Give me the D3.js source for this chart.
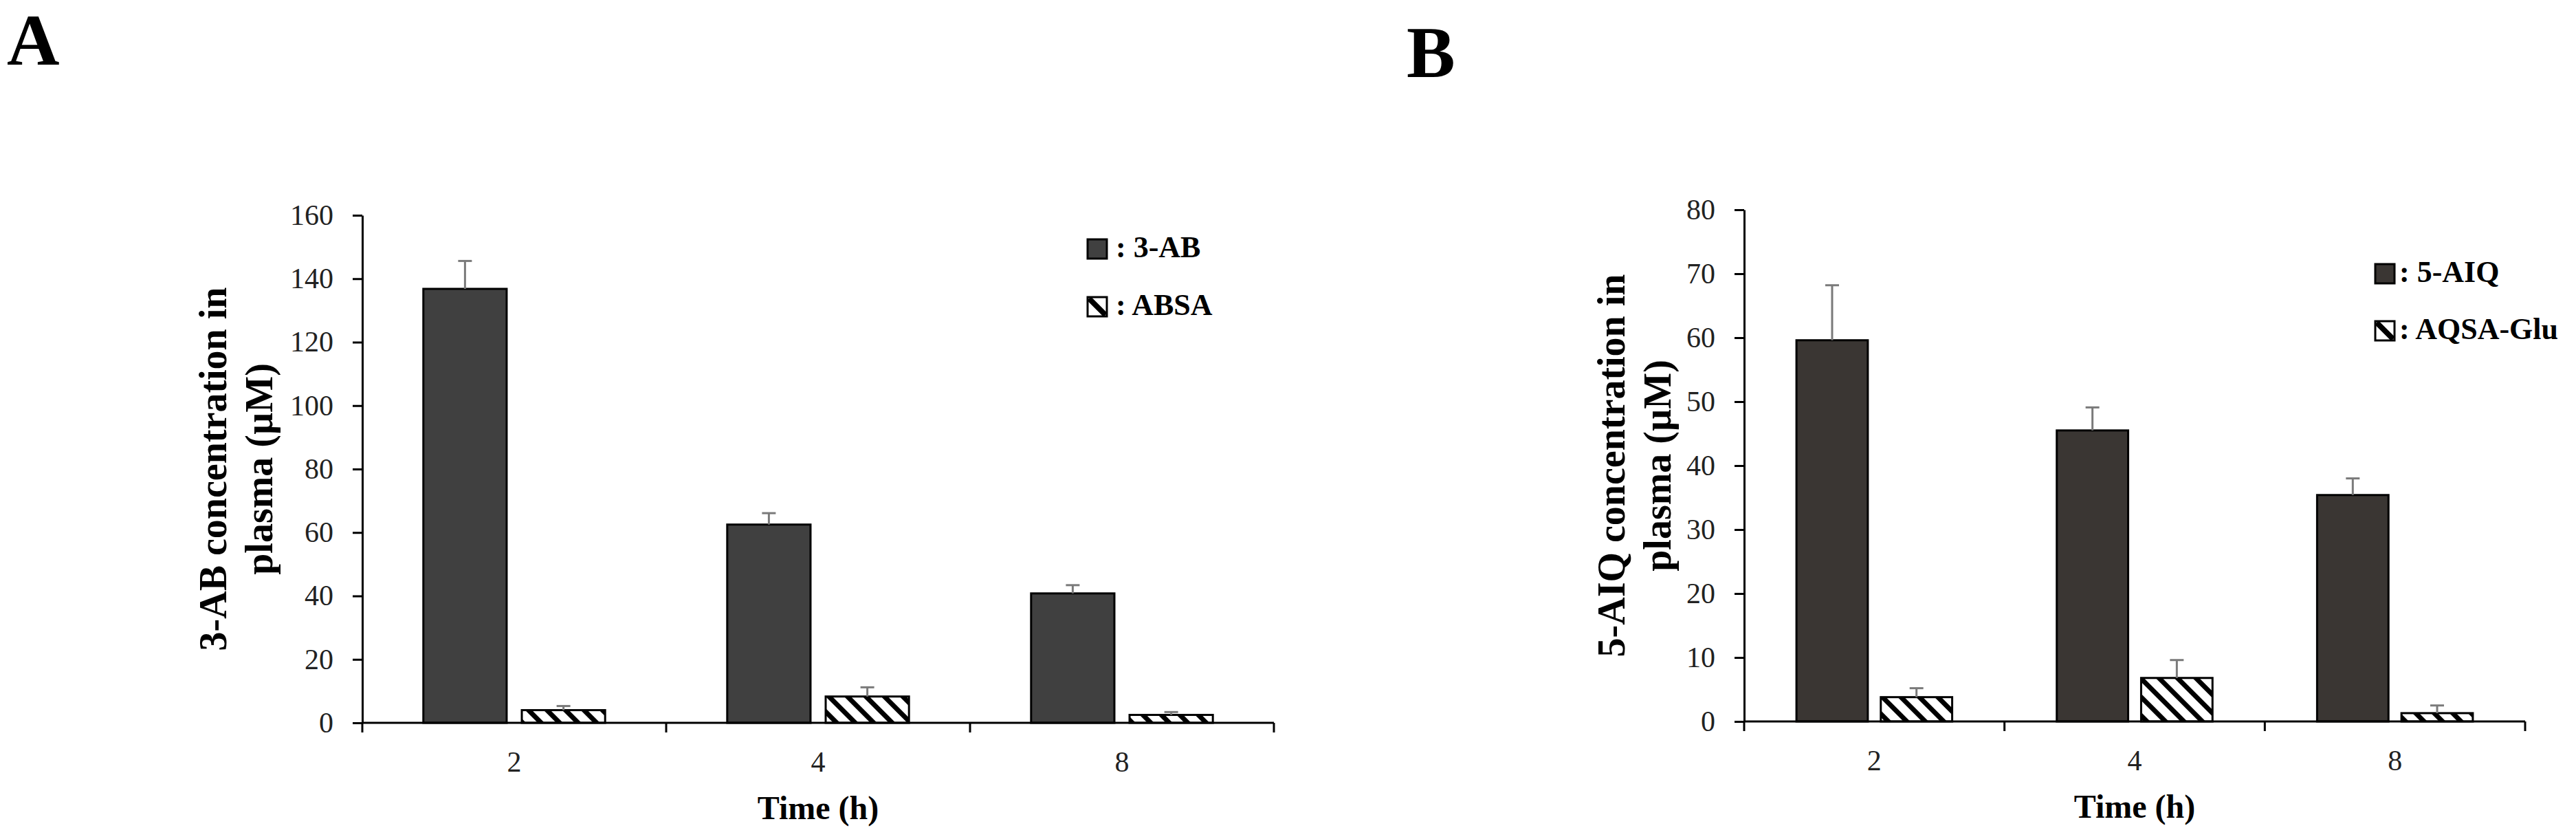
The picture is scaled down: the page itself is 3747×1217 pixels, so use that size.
<!DOCTYPE html>
<html>
<head>
<meta charset="utf-8">
<script src="https://cdn.jsdelivr.net/npm/d3@7"></script>
<style>
  body { margin: 0; background: #fff; }
  svg text { font-family: "Liberation Serif", "Times New Roman", serif; }
</style>
</head>
<body>
<svg id="chart"></svg>
<script>
// values (mean and upper SD)
const times = ["2", "4", "8"];

const seriesA = ["3-AB", "ABSA"];
const mean3AB = [136.8, 62.5, 40.8];
const sd3AB = [8.8, 3.6, 2.6];
const meanABSA = [4.0, 8.3, 2.5];
const sdABSA = [1.3, 2.9, 0.9];
const yTicksA = [0, 20, 40, 60, 80, 100, 120, 140, 160];

const seriesB = ["5-AIQ", "AQSA-Glu"];
const mean5AIQ = [59.6, 45.5, 35.4];
const sd5AIQ = [8.6, 3.6, 2.6];
const meanAQSA = [3.8, 6.8, 1.3];
const sdAQSA = [1.4, 2.8, 1.2];
const yTicksB = [0, 10, 20, 30, 40, 50, 60, 70, 80];

const W = 3747, H = 1217;
const font = '"Liberation Serif", "Times New Roman", serif';

const svg = d3.select("#chart").attr("width", W).attr("height", H);

// hatch pattern (wide downward diagonal)
const defs = svg.append("defs");
defs.append("pattern")
  .attr("id", "hatch")
  .attr("patternUnits", "userSpaceOnUse")
  .attr("width", 19).attr("height", 19)
  .attr("patternTransform", "rotate(-45)")
  .call(p => {
    p.append("rect").attr("width", 19).attr("height", 19).attr("fill", "#fff");
    p.append("rect").attr("width", 7).attr("height", 19).attr("fill", "#000");
  });

function drawPanel(opt) {
  const g = svg.append("g");

  const x = d3.scaleBand().domain(times).range([opt.left, opt.right]);
  const xs = d3.scaleBand().domain([0, 1]).range([0, x.bandwidth()])
    .paddingInner(0.154).paddingOuter(0.62);
  const y = d3.scaleLinear().domain([0, opt.yMax]).range([opt.bottom, opt.top]);

  const bars = [];
  times.forEach((t, i) => {
    bars.push({t: t, s: 0, v: opt.mean[0][i], e: opt.sd[0][i]});
    bars.push({t: t, s: 1, v: opt.mean[1][i], e: opt.sd[1][i]});
  });

  // bars
  g.selectAll("rect.bar").data(bars).join("rect")
    .attr("class", "bar")
    .attr("x", d => x(d.t) + xs(d.s))
    .attr("width", xs.bandwidth())
    .attr("y", d => y(d.v))
    .attr("height", d => y(0) - y(d.v))
    .attr("fill", d => d.s === 0 ? opt.fill : "url(#hatch)")
    .attr("stroke", "#000")
    .attr("stroke-width", 3);

  // error bars (upper only)
  const eb = g.selectAll("g.err").data(bars).join("g").attr("class", "err")
    .attr("stroke", "#7a7a7a").attr("stroke-width", 3);
  eb.append("line")
    .attr("x1", d => x(d.t) + xs(d.s) + xs.bandwidth() / 2)
    .attr("x2", d => x(d.t) + xs(d.s) + xs.bandwidth() / 2)
    .attr("y1", d => y(d.v))
    .attr("y2", d => y(d.v + d.e));
  eb.append("line")
    .attr("x1", d => x(d.t) + xs(d.s) + xs.bandwidth() / 2 - 10)
    .attr("x2", d => x(d.t) + xs(d.s) + xs.bandwidth() / 2 + 10)
    .attr("y1", d => y(d.v + d.e))
    .attr("y2", d => y(d.v + d.e));

  // y axis
  const yAxis = g.append("g")
    .attr("transform", `translate(${opt.left},0)`)
    .call(d3.axisLeft(y).tickValues(opt.yTicks).tickSize(14).tickPadding(28).tickSizeOuter(0));
  yAxis.attr("font-family", font).attr("font-size", 42);
  yAxis.select(".domain").attr("stroke", "#000").attr("stroke-width", 3);
  yAxis.selectAll(".tick line").attr("stroke", "#000").attr("stroke-width", 3);
  yAxis.selectAll(".tick text").attr("fill", "#222");

  // x axis: line, boundary ticks, centred labels
  const xAxis = g.append("g").attr("transform", `translate(0,${opt.bottom})`);
  xAxis.append("line")
    .attr("x1", opt.left).attr("x2", opt.right)
    .attr("stroke", "#000").attr("stroke-width", 3);
  xAxis.selectAll("line.tick").data(d3.range(times.length + 1)).join("line")
    .attr("class", "tick")
    .attr("x1", i => opt.left + i * x.step())
    .attr("x2", i => opt.left + i * x.step())
    .attr("y1", 0).attr("y2", 14)
    .attr("stroke", "#000").attr("stroke-width", 3);
  xAxis.selectAll("text").data(times).join("text")
    .attr("x", d => x(d) + x.bandwidth() / 2)
    .attr("y", 71)
    .attr("text-anchor", "middle")
    .attr("font-size", 42)
    .attr("fill", "#222")
    .text(d => d);

  g.append("text")
    .attr("x", (opt.left + opt.right) / 2)
    .attr("y", opt.bottom + 140)
    .attr("text-anchor", "middle")
    .attr("font-size", 48)
    .attr("font-weight", "bold")
    .text("Time (h)");

  // y title, two lines
  const yc = (opt.top + opt.bottom) / 2;
  opt.yTitle.forEach((line, k) => {
    g.append("text")
      .attr("transform", `translate(${opt.titleX[k]},${yc}) rotate(-90)`)
      .attr("text-anchor", "middle")
      .attr("font-size", 56)
      .attr("font-weight", "bold")
      .text(line);
  });

  // legend
  opt.series.forEach((name, k) => {
    const ly = opt.legY + k * opt.legStep;
    const lg = g.append("g").attr("transform", `translate(${opt.legX},${ly})`);
    if (k === 0) {
      lg.append("rect").attr("width", 28).attr("height", 28)
        .attr("fill", opt.fill).attr("stroke", "#000").attr("stroke-width", 3);
    } else {
      lg.append("rect").attr("width", 28).attr("height", 28).attr("fill", "#fff");
      lg.append("line").attr("x1", 2).attr("y1", 2).attr("x2", 26).attr("y2", 26)
        .attr("stroke", "#000").attr("stroke-width", 8);
      lg.append("rect").attr("width", 28).attr("height", 28)
        .attr("fill", "none").attr("stroke", "#000").attr("stroke-width", 3);
    }
    lg.append("text")
      .attr("x", opt.legText)
      .attr("y", 26)
      .attr("font-size", 44)
      .attr("font-weight", "bold")
      .text(": " + name);
  });

  svg.append("text")
    .attr("x", opt.letterX).attr("y", opt.letterY)
    .attr("font-size", 106)
    .attr("font-weight", "bold")
    .text(opt.letter);
}

drawPanel({
  letter: "A", letterX: 10, letterY: 94,
  left: 527, right: 1853, top: 313, bottom: 1051,
  yMax: 160, yTicks: yTicksA,
  mean: [mean3AB, meanABSA], sd: [sd3AB, sdABSA],
  series: seriesA, fill: "#404040",
  yTitle: ["3-AB concentration in", "plasma (\u00b5M)"], titleX: [329, 396],
  legX: 1582, legY: 348, legStep: 84, legText: 41
});

drawPanel({
  letter: "B", letterX: 2046, letterY: 112,
  left: 2537, right: 3673, top: 305, bottom: 1049,
  yMax: 80, yTicks: yTicksB,
  mean: [mean5AIQ, meanAQSA], sd: [sd5AIQ, sdAQSA],
  series: seriesB, fill: "#3a3633",
  yTitle: ["5-AIQ concentration in", "plasma (\u00b5M)"], titleX: [2363, 2430],
  legX: 3455, legY: 384, legStep: 83, legText: 35
});
</script>
</body>
</html>
